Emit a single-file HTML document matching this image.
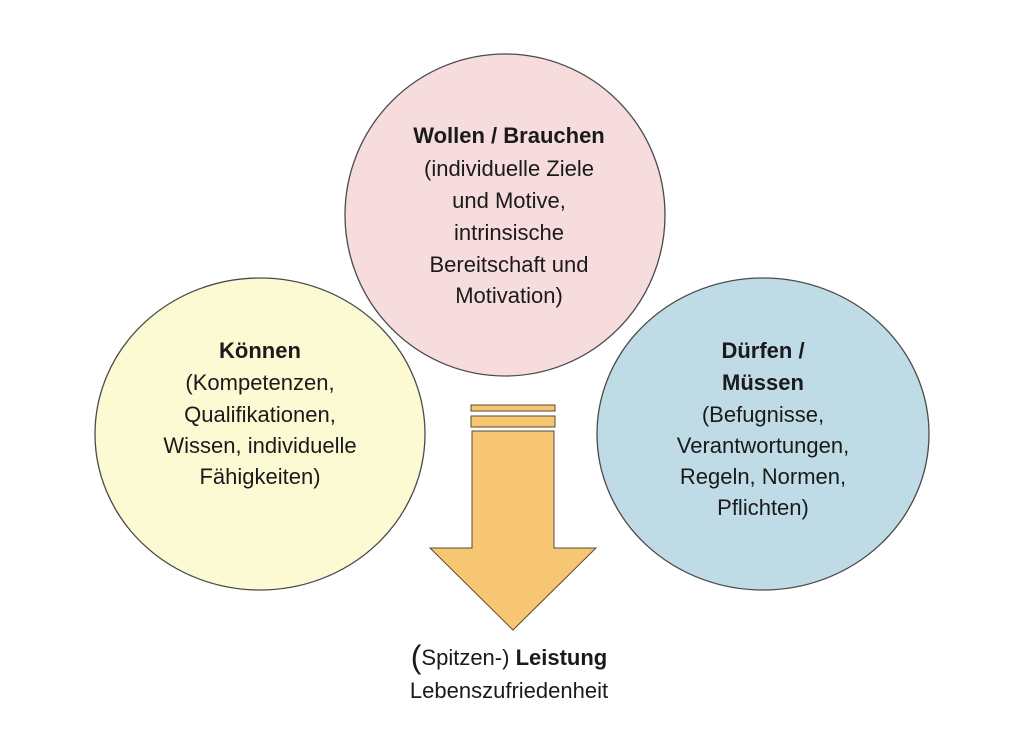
<!DOCTYPE html>
<html><head><meta charset="utf-8"><style>
body{margin:0;background:#fff;width:1024px;height:742px;overflow:hidden}
svg text{font-family:"Liberation Sans",sans-serif;fill:#1a1a1a;font-size:22px}
</style></head><body>
<svg width="1024" height="742" viewBox="0 0 1024 742" xmlns="http://www.w3.org/2000/svg">
<ellipse cx="505" cy="215" rx="160" ry="161" fill="#f6dcdc" stroke="#4a4a4a" stroke-width="1.3"/>
<ellipse cx="260" cy="434" rx="165" ry="156" fill="#fcfad2" stroke="#4a4a4a" stroke-width="1.3"/>
<ellipse cx="763" cy="434" rx="166" ry="156" fill="#bfdbe6" stroke="#4a4a4a" stroke-width="1.3"/>
<g fill="#f6c672" stroke="#5a4a30" stroke-width="1">
<rect x="471" y="405" width="84" height="6"/>
<rect x="471" y="416" width="84" height="11"/>
<polygon points="472,431 554,431 554,548 596,548 513,630 430,548 472,548"/>
</g>
<g text-anchor="middle">
<text x="509" y="143" font-weight="bold">Wollen / Brauchen</text>
<text x="509" y="176">(individuelle Ziele</text>
<text x="509" y="208">und Motive,</text>
<text x="509" y="240">intrinsische</text>
<text x="509" y="272">Bereitschaft und</text>
<text x="509" y="303">Motivation)</text>
<text x="260" y="358" font-weight="bold">Können</text>
<text x="260" y="390">(Kompetenzen,</text>
<text x="260" y="422">Qualifikationen,</text>
<text x="260" y="453">Wissen, individuelle</text>
<text x="260" y="484">Fähigkeiten)</text>
<text x="763" y="358" font-weight="bold">Dürfen /</text>
<text x="763" y="390" font-weight="bold">Müssen</text>
<text x="763" y="422">(Befugnisse,</text>
<text x="763" y="453">Verantwortungen,</text>
<text x="763" y="484">Regeln, Normen,</text>
<text x="763" y="515">Pflichten)</text>
<text x="509" y="665"><tspan font-size="32" dy="3">(</tspan><tspan dy="-3">Spitzen-) </tspan><tspan font-weight="bold">Leistung</tspan></text>
<text x="509" y="698">Lebenszufriedenheit</text>
</g>
</svg>
</body></html>
